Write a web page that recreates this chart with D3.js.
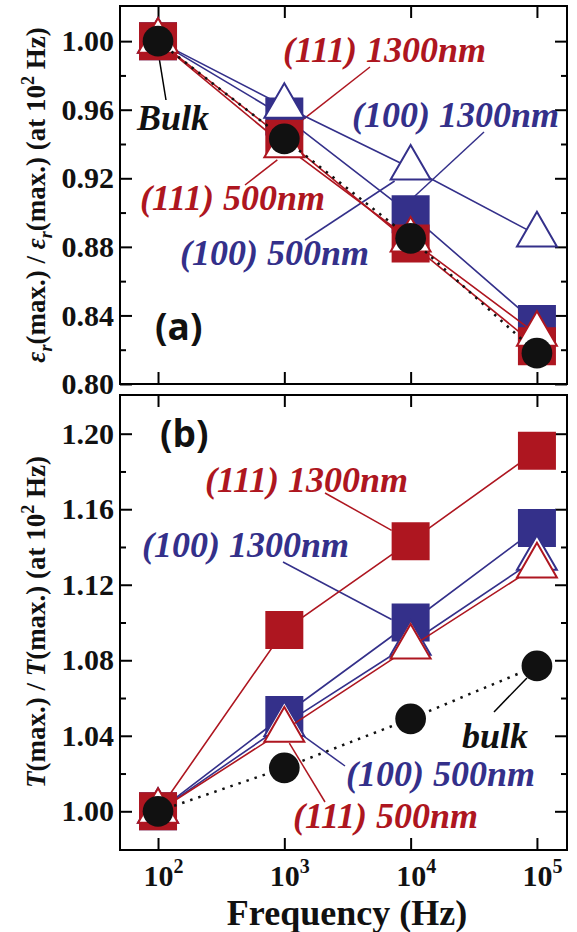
<!DOCTYPE html>
<meta charset="utf-8">
<head>
<style>
    body {
        margin: 0;
        background: #fff;
    }

    svg text {
        font-family: "Liberation Serif", "Times New Roman", serif;
    }

    .note {
        font-size: 36px;
        font-weight: bold;
        font-style: italic;
    }

    .panel-tag {
        font-family: "Open Sans", "Liberation Sans", sans-serif !important;
        font-size: 37px;
        font-weight: bold;
    }
</style>
</head>

<body>
<div id="chart"></div>
<script src="https://d3js.org/d3.v7.min.js"></script>
<script>
    // frequencies (Hz)
    var freq = [1e2, 1e3, 1e4, 1e5];

    // (a) eps_r(max.) normalised at 10^2 Hz
    var epsA100_1300 = [1.000, 0.956, 0.899, 0.835];
    var epsA100_500 = [1.000, 0.962, 0.926, 0.887];
    var epsA111_1300 = [1.000, 0.943, 0.882, 0.822];
    var epsA111_500 = [1.000, 0.939, 0.884, 0.829];
    var epsABulk = [1.000, 0.943, 0.885, 0.818];

    // (b) T(max.) normalised at 10^2 Hz
    var tB100_1300 = [1.000, 1.051, 1.100, 1.150];
    var tB100_500 = [1.000, 1.046, 1.089, 1.134];
    var tB111_1300 = [1.000, 1.096, 1.143, 1.191];
    var tB111_500 = [1.000, 1.043, 1.087, 1.130];
    var tBBulk = [1.000, 1.023, 1.049, 1.077];

    // tick values
    var yTicksA = [0.80, 0.84, 0.88, 0.92, 0.96, 1.00];
    var yMinorA = [0.82, 0.86, 0.90, 0.94, 0.98];
    var yTicksB = [1.00, 1.04, 1.08, 1.12, 1.16, 1.20];
    var yMinorB = [1.02, 1.06, 1.10, 1.14, 1.18];

    var red = "#ae1620", blue = "#34308a", black = "#111";

    var left = 120, right = 567;

    var svg = d3.select("#chart").append("svg")
        .attr("width", 577)
        .attr("height", 932);

    var x = d3.scaleLog().domain([50, 1.73e5]).range([left, right]);

    var panels = [
        {
            top: 6, bottom: 384, domain: [0.80, 1.0205], major: yTicksA, minor: yMinorA, xLabels: false,
            series: [
                { v: epsA100_1300, c: blue, shape: "square" },
                { v: epsA100_500, c: blue, shape: "triangle" },
                { v: epsA111_1300, c: red, shape: "square" },
                { v: epsA111_500, c: red, shape: "triangle" },
                { v: epsABulk, c: black, shape: "circle", dotted: true }
            ],
            // text: [label, colour, x, baseline], leader: [x0, y0, series index, point index, dx, dy]
            notes: [
                ["(111) 1300nm", red, 283, 62, [370, 67, 2, 1, 17, -18]],
                ["(100) 1300nm", blue, 352, 127, [484, 132, 0, 2, 4, -18]],
                ["(111) 500nm", red, 140, 210, [245, 185, 2, 1, -7, 21]],
                ["(100) 500nm", blue, 180, 265, [305, 240, 1, 2, -16, 13]],
                ["Bulk", black, 137, 130, [166, 100, 4, 0, 1, 16]]
            ],
            tag: ["(a)", 155, 340]
        },
        {
            top: 395, bottom: 850, domain: [0.9795, 1.2205], major: yTicksB, minor: yMinorB, xLabels: true,
            series: [
                { v: tB100_1300, c: blue, shape: "square" },
                { v: tB100_500, c: blue, shape: "triangle" },
                { v: tB111_1300, c: red, shape: "square" },
                { v: tB111_500, c: red, shape: "triangle" },
                { v: tBBulk, c: black, shape: "circle", dotted: true }
            ],
            notes: [
                ["(111) 1300nm", red, 205, 492, [325, 493, 2, 2, -19, -11]],
                ["(100) 1300nm", blue, 142, 557, [283, 562, 0, 2, -19, -3]],
                ["bulk", black, 462, 748, [494, 712, 4, 3, -10, 12]],
                ["(100) 500nm", blue, 346, 786, [345, 766, 1, 1, 3, 0]],
                ["(111) 500nm", red, 293, 828, [325, 802, 3, 1, 5, 13]]
            ],
            tag: ["(b)", 160, 447]
        }
    ];

    var symbols = {
        square: d3.symbol().type(d3.symbolSquare).size(38 * 38),
        triangle: d3.symbol().type(d3.symbolTriangle).size(690),
        circle: d3.symbol().type(d3.symbolCircle).size(740)
    };

    // d3 axes set their own font on the group they are called on
    function axisFont(g) {
        g.attr("font-family", "'Liberation Serif', 'Times New Roman', serif")
            .attr("font-weight", "bold")
            .attr("font-size", 30);
    }

    panels.forEach(function (p) {
        var y = d3.scaleLinear().domain(p.domain).range([p.bottom, p.top]);

        // axes, ticks point inwards
        var ax = svg.append("g");

        ax.append("g").attr("transform", "translate(" + left + ",0)")
            .call(d3.axisLeft(y).tickValues(p.major).tickSize(-12).tickPadding(6).tickFormat(d3.format(".2f")))
            .call(axisFont);
        ax.append("g").attr("transform", "translate(" + left + ",0)")
            .call(d3.axisLeft(y).tickValues(p.minor).tickSize(-6).tickFormat(""));
        ax.append("g").attr("transform", "translate(" + right + ",0)")
            .call(d3.axisRight(y).tickValues(p.major).tickSize(-12).tickFormat(""));
        ax.append("g").attr("transform", "translate(" + right + ",0)")
            .call(d3.axisRight(y).tickValues(p.minor).tickSize(-6).tickFormat(""));
        ax.append("g").attr("transform", "translate(0," + p.top + ")")
            .call(d3.axisTop(x).tickValues(freq).tickSize(-12).tickFormat(""));
        var bx = ax.append("g").attr("transform", "translate(0," + p.bottom + ")")
            .call(d3.axisBottom(x).tickValues(freq).tickSize(-12).tickFormat(""))
            .call(axisFont);

        if (p.xLabels) {
            bx.selectAll(".tick").append("text")
                .attr("fill", "#111")
                .attr("text-anchor", "middle")
                .attr("x", 5)
                .attr("y", 36)
                .each(function (d) {
                    var t = d3.select(this);
                    t.append("tspan").text("10");
                    t.append("tspan").attr("dy", -13).attr("font-size", 20).text(Math.round(Math.log10(d)));
                });
        }

        ax.selectAll(".domain").remove();
        ax.selectAll(".tick line").attr("stroke", "#000").attr("stroke-width", 2);
        ax.selectAll(".tick text").attr("fill", "#111");

        svg.append("rect")
            .attr("x", left).attr("y", p.top)
            .attr("width", right - left).attr("height", p.bottom - p.top)
            .attr("fill", "none").attr("stroke", "#000").attr("stroke-width", 2);

        // leader lines for the labels
        p.notes.forEach(function (n) {
            var L = n[4];
            svg.append("line")
                .attr("x1", L[0]).attr("y1", L[1])
                .attr("x2", x(freq[L[3]]) + L[4])
                .attr("y2", y(p.series[L[2]].v[L[3]]) + L[5])
                .attr("stroke", n[1] == black ? "#000" : n[1])
                .attr("stroke-width", 1.5);
        });

        // series: line then markers
        p.series.forEach(function (s) {
            var pts = freq.map(function (f, i) { return [x(f), y(s.v[i])]; });
            svg.append("path")
                .attr("d", d3.line()(pts))
                .attr("fill", "none")
                .attr("stroke", s.c)
                .attr("stroke-width", s.dotted ? 2.5 : 1.6)
                .attr("stroke-dasharray", s.dotted ? "2.5,6" : null);

            svg.append("g").selectAll("path")
                .data(pts)
                .enter()
                .append("path")
                .attr("transform", function (d) { return "translate(" + d[0] + "," + d[1] + ")"; })
                .attr("d", symbols[s.shape])
                .attr("fill", s.shape == "triangle" ? "#fff" : s.c)
                .attr("stroke", s.shape == "triangle" ? s.c : "none")
                .attr("stroke-width", 2);
        });

        // labels
        p.notes.forEach(function (n) {
            svg.append("text")
                .attr("class", "note")
                .attr("x", n[2]).attr("y", n[3])
                .attr("fill", n[1])
                .text(n[0]);
        });

        svg.append("text")
            .attr("class", "panel-tag")
            .attr("x", p.tag[1]).attr("y", p.tag[2])
            .attr("fill", "#111")
            .text(p.tag[0]);
    });

    // rotated y titles with sub/superscripts
    function yTitle(cy, parts) {
        var t = svg.append("text")
            .attr("transform", "translate(45," + cy + ") rotate(-90)")
            .attr("text-anchor", "middle")
            .attr("font-size", 27)
            .attr("font-weight", "bold")
            .attr("fill", "#111");
        var shift = 0;
        parts.forEach(function (q) {
            var target = q.sub ? 7 : q.sup ? -11 : 0;
            t.append("tspan")
                .attr("dy", target - shift)
                .attr("font-style", q.it ? "italic" : null)
                .attr("font-size", (q.sub || q.sup) ? 18 : null)
                .text(q.t);
            shift = target;
        });
    }

    yTitle(195, [
        { t: "ε", it: true }, { t: "r", it: true, sub: true }, { t: "(max.) / " },
        { t: "ε", it: true }, { t: "r", it: true, sub: true }, { t: "(max.) (at 10" },
        { t: "2", sup: true }, { t: " Hz)" }
    ]);
    yTitle(622, [
        { t: "T", it: true }, { t: "(max.) / " },
        { t: "T", it: true }, { t: "(max.) (at 10" },
        { t: "2", sup: true }, { t: " Hz)" }
    ]);

    // x title
    svg.append("text")
        .attr("x", 347).attr("y", 925)
        .attr("text-anchor", "middle")
        .attr("font-size", 36)
        .attr("font-weight", "bold")
        .attr("fill", "#111")
        .text("Frequency (Hz)");
</script>
</body>
